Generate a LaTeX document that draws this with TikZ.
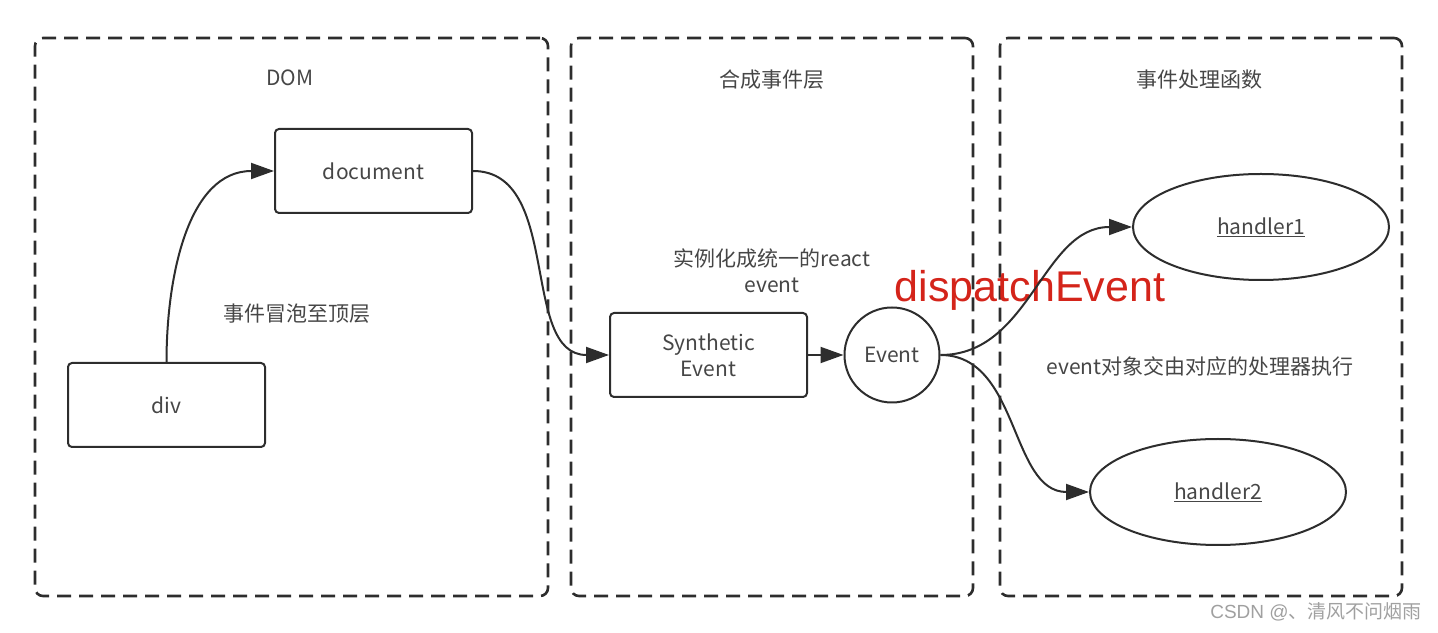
\documentclass[tikz,border=0pt]{standalone}
\usepackage{fontspec}
\setmainfont{Noto Sans CJK SC}
\newfontfamily\arialfont{Liberation Sans}
\usetikzlibrary{arrows.meta, shapes.geometric}
\definecolor{linegray} {RGB}{45, 45, 45}
\definecolor{textgray} {RGB}{70, 70, 70}
\definecolor{dispred}  {RGB}{212, 36, 26}
\definecolor{markgray} {RGB}{160,160,160}

\begin{document}
\begin{tikzpicture}[x=1pt, y=1pt, line width=2pt, draw=linegray,
  font=\fontsize{21}{26}\selectfont,
  layer/.style={draw, dash pattern=on 14pt off 8pt, line width=2.6pt,
    rounded corners=8pt, inner sep=0pt},
  boxnode/.style={draw, rounded corners=4pt, minimum width=197pt,
    minimum height=84pt, text=textgray, align=center, inner sep=0pt},
  ellnode/.style={draw, ellipse, minimum width=256pt, minimum height=106pt,
    inner sep=0pt, text=textgray},
  lbl/.style={text=textgray, align=center},
  flow/.style={-{Triangle[length=23pt, width=16pt]}, draw=linegray, fill=none}]
  \useasboundingbox (0,0) rectangle (1438,632);
  % layers
  \node[layer, minimum width=513pt, minimum height=558pt] (domlayer) at (291.5,315) {};
  \node[layer, minimum width=402pt, minimum height=558pt] (synlayer) at (772,315) {};
  \node[layer, minimum width=402pt, minimum height=558pt] (hdllayer) at (1201,315) {};
  \node[lbl] (domtitle) at (290,554) {DOM};
  \node[lbl] (syntitle) at (772,552) {合成事件层};
  \node[lbl] (hdltitle) at (1199,552) {事件处理函数};
  % DOM side
  \node[boxnode] (doc) at (373.5,461) {document};
  \node[boxnode] (div) at (166.5,227) {div};
  \node[lbl] (bubble) at (297,318) {事件冒泡至顶层};
  \draw[flow] (div.north) to[out=90, in=180] (doc.west);
  % synthetic layer
  \node[boxnode] (syn) at (708.5,277) {Synthetic\\Event};
  \node[lbl] (inst) at (772,361) {实例化成统一的react\\event};
  \node[draw, circle, minimum size=95pt, inner sep=0pt, text=textgray] (ev) at (892,277) {Event};
  \draw[flow] (doc.east) to[out=0, in=180] (syn.west);
  \draw[flow] (syn.east) -- (ev.west);
  % handlers
  \node[ellnode] (hone) at (1261,405) {\underline{handler1}};
  \node[ellnode] (htwo) at (1218,140) {\underline{handler2}};
  \node[text=dispred, font=\arialfont\fontsize{43}{48}\selectfont] (disp) at (1030,342) {dispatchEvent};
  \node[lbl] (exec) at (1200,265) {event对象交由对应的处理器执行};
  \draw[flow] (ev.east) to[out=0, in=180] (hone.west);
  \draw[flow] (ev.east) to[out=0, in=180] (htwo.west);
  % watermark
  \node[text=markgray, font=\fontsize{19}{22}\selectfont] (mark) at (1316,20) {{\arialfont CSDN @}、清风不问烟雨};
\end{tikzpicture}
\end{document}
